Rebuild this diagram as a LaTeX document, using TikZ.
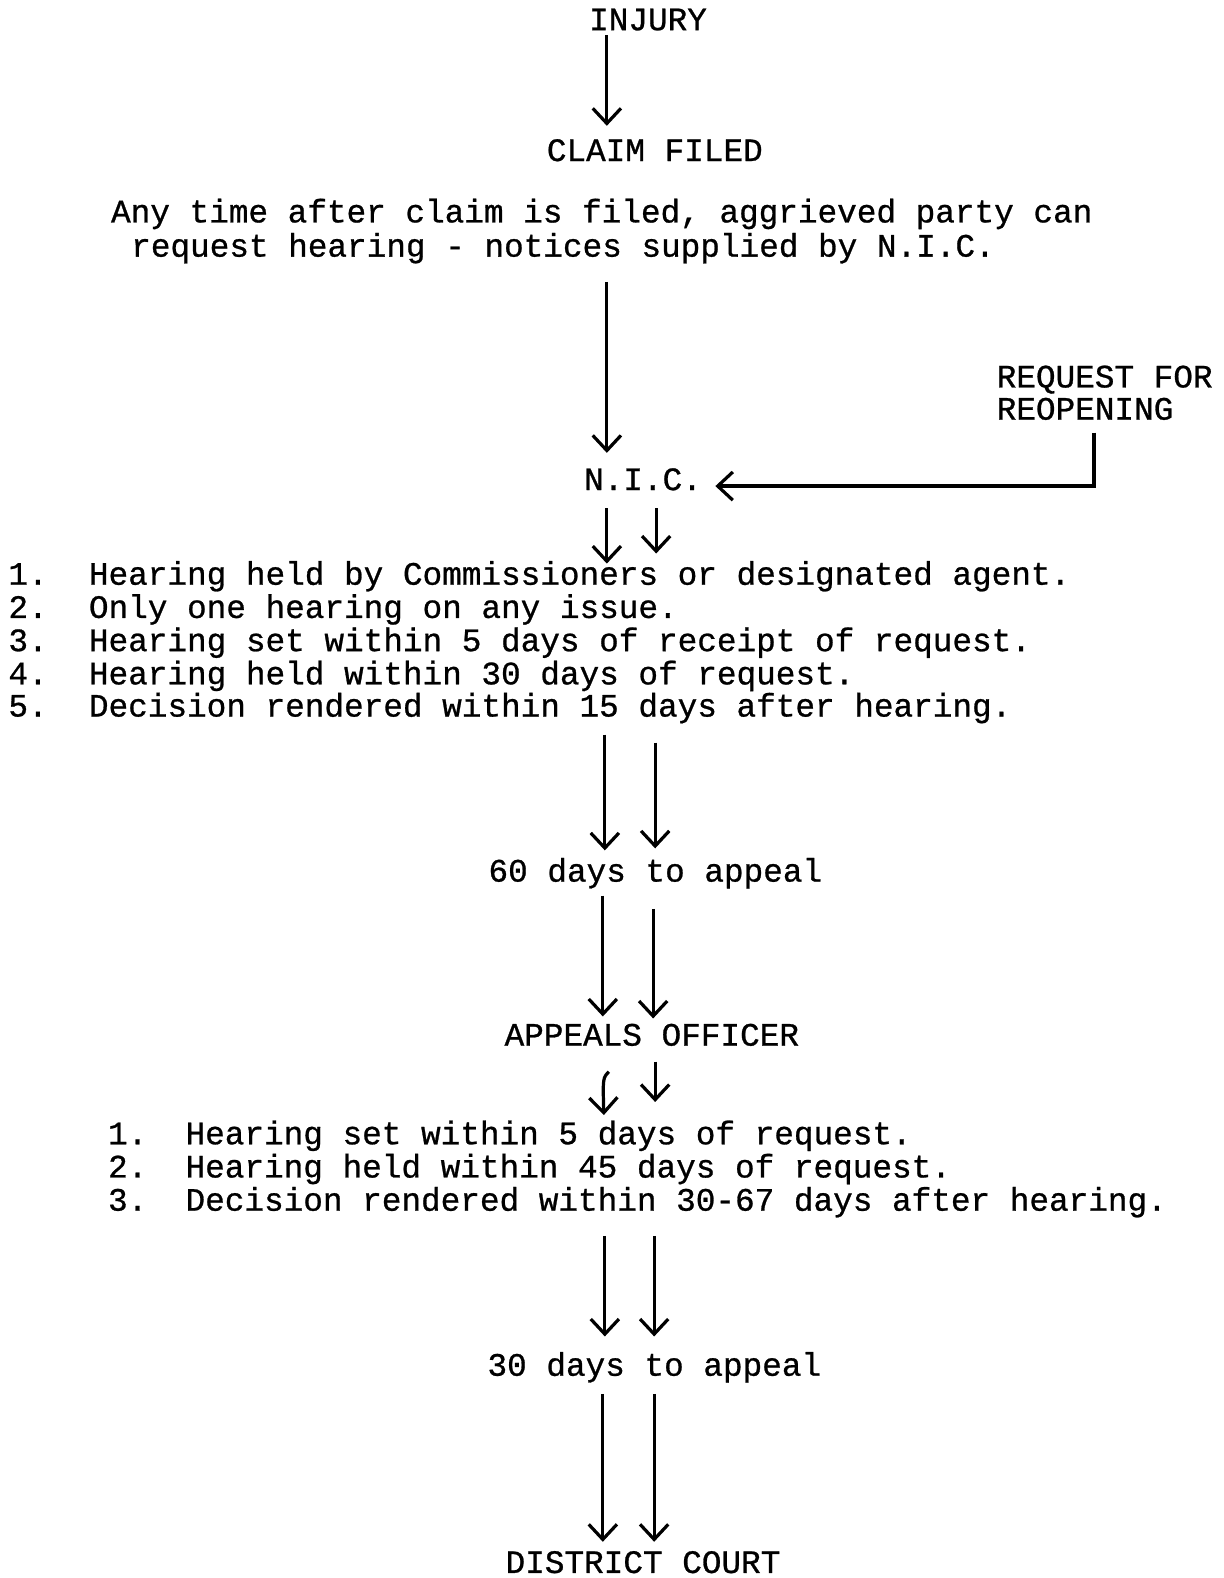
\documentclass[tikz,border=0pt]{standalone}
\usepackage{fontspec}
\setmainfont[FakeBold=0.8]{Liberation Mono}
\usetikzlibrary{arrows.meta}
\usetikzlibrary{calc}

\begin{document}
\begin{tikzpicture}[x=0.5pt,y=-0.5pt,
  txt/.style={anchor=base west,inner sep=0pt,font=\fontsize{16.25}{16.5}\selectfont},
  arr/.style={line width=1.6pt,-{Straight Barb[length=7.5pt,width=14pt]}}]
  \useasboundingbox (0,0) rectangle (1216,1568);

  \node[txt] (injury) at (585,30) {INJURY};
  \node[txt] (claim) at (543,160) {CLAIM FILED};
  \node[txt] (para1) at (110,221) {Any time after claim is filed, aggrieved party can};
  \node[txt] (para2) at (130,255) {request hearing - notices supplied by N.I.C.};
  \node[txt] (request) at (990,385) {REQUEST FOR};
  \node[txt] (reopen) at (990,417) {REOPENING};
  \node[txt] (nic) at (580,487) {N.I.C.};

  \node[txt] (n1) at (8,581) {1.};
  \node[txt] (n2) at (8,614) {2.};
  \node[txt] (n3) at (8,647) {3.};
  \node[txt] (n4) at (8,680) {4.};
  \node[txt] (n5) at (8,712) {5.};
  \node[txt] (l1) at (88,581) {Hearing held by Commissioners or designated agent.};
  \node[txt] (l2) at (88,614) {Only one hearing on any issue.};
  \node[txt] (l3) at (88,647) {Hearing set within 5 days of receipt of request.};
  \node[txt] (l4) at (88,680) {Hearing held within 30 days of request.};
  \node[txt] (l5) at (88,712) {Decision rendered within 15 days after hearing.};

  \node[txt] (appeal60) at (485,876) {60 days to appeal};
  \node[txt] (officer) at (501,1039) {APPEALS OFFICER};

  \node[txt] (k1) at (107,1137) {1.};
  \node[txt] (k2) at (107,1170) {2.};
  \node[txt] (k3) at (107,1203) {3.};
  \node[txt] (m1) at (184,1137) {Hearing set within 5 days of request.};
  \node[txt] (m2) at (184,1170) {Hearing held within 45 days of request.};
  \node[txt] (m3) at (184,1203) {Decision rendered within 30-67 days after hearing.};

  \node[txt] (appeal30) at (484,1367) {30 days to appeal};
  \node[txt] (court) at (502,1563) {DISTRICT COURT};

  % arrows down the page
  \draw[arr] ($(injury.base west)+(18,5)$) -- ($(claim.base west)+(60,-35)$);
  \draw[arr] ($(para2.base west)+(473,25)$) -- ($(nic.base west)+(23,-37)$);
  \draw[arr] ($(reopen.base west)+(97,13)$) |- ($(nic.base east)+(13,-4)$);

  \draw[arr] ($(nic.base west)+(23,18)$) -- ($(l1.base west)+(515,-21)$);
  \draw[arr] ($(nic.base west)+(72,18)$) -- ($(l1.base west)+(564,-31)$);

  \draw[arr] ($(l5.base west)+(513,18)$) -- ($(appeal60.base west)+(116,-31)$);
  \draw[arr] ($(l5.base west)+(563,26)$) -- ($(appeal60.base west)+(166,-33)$);

  \draw[arr] ($(appeal60.base west)+(114,14)$) -- ($(officer.base west)+(98,-29)$);
  \draw[arr] ($(appeal60.base west)+(164,27)$) -- ($(officer.base west)+(148,-27)$);

  \draw[arr] ($(officer.base west)+(104,26)$) .. controls ($(officer.base west)+(98,32)$) .. ($(m1.base west)+(416,-29)$);
  \draw[arr] ($(officer.base west)+(150,16)$) -- ($(m1.base west)+(467,-42)$);

  \draw[arr] ($(m3.base west)+(417,25)$) -- ($(appeal30.base west)+(117,-39)$);
  \draw[arr] ($(m3.base west)+(466,25)$) -- ($(appeal30.base west)+(166,-39)$);

  \draw[arr] ($(appeal30.base west)+(115,18)$) -- ($(court.base west)+(97,-31)$);
  \draw[arr] ($(appeal30.base west)+(166,18)$) -- ($(court.base west)+(148,-31)$);
\end{tikzpicture}
\end{document}
